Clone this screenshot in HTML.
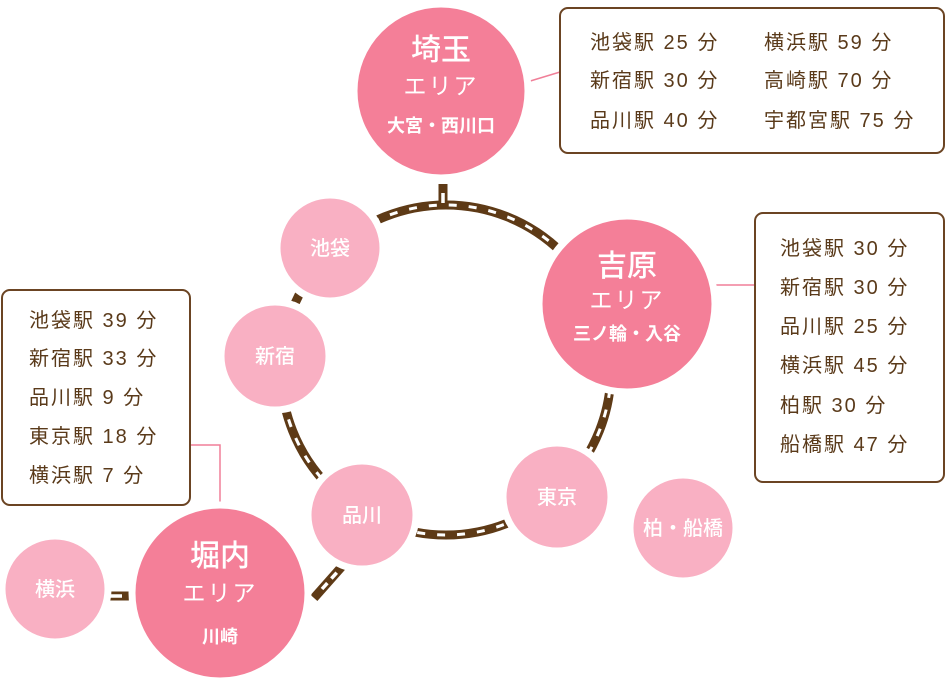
<!DOCTYPE html>
<html><head><meta charset="utf-8"><style>
body{margin:0;width:945px;height:690px;background:#fff;overflow:hidden;position:relative;font-family:"Liberation Sans","Noto Sans CJK JP",sans-serif}
.box{position:absolute;border:2px solid #6b4423;border-radius:9px;box-sizing:border-box;background:#fff}
.t{position:absolute;color:#5a3a1a;font-size:20px;letter-spacing:2px;white-space:nowrap;line-height:1}
</style></head><body>
<svg width="945" height="690" style="position:absolute;left:0;top:0">
<g fill="none">
<circle cx="446" cy="370" r="165" stroke="#5e3a16" stroke-width="9"/>
<circle cx="446" cy="370" r="165" stroke="#fff" stroke-width="3" stroke-dasharray="8 12"/>
<line x1="443" y1="184" x2="443" y2="207" stroke="#5e3a16" stroke-width="9"/>
<line x1="443" y1="193" x2="443" y2="203" stroke="#fff" stroke-width="3.5"/>
<line x1="314" y1="598" x2="345" y2="563" stroke="#5e3a16" stroke-width="9"/>
<line x1="322" y1="589" x2="340" y2="569" stroke="#fff" stroke-width="3.5" stroke-dasharray="8 6"/>
<line x1="106" y1="596" x2="132" y2="596" stroke="#5e3a16" stroke-width="9"/>
<line x1="110" y1="596" x2="122" y2="596" stroke="#fff" stroke-width="3.5"/>
<polyline points="560,72 527,82" stroke="#f07f98" stroke-width="1.5"/>
<polyline points="755,285 712,285" stroke="#f07f98" stroke-width="1.5"/>
<polyline points="190,445 220,445 220,508" stroke="#f07f98" stroke-width="1.5"/>
</g>
<g stroke="#fff" stroke-width="7">
<circle cx="441" cy="91" r="87" fill="#f47f98"/>
<circle cx="627" cy="304" r="88" fill="#f47f98"/>
<circle cx="220" cy="593" r="88" fill="#f47f98"/>
<circle cx="330" cy="248" r="53" fill="#f9b0c3"/>
<circle cx="275" cy="356" r="54" fill="#f9b0c3"/>
<circle cx="362" cy="515" r="54" fill="#f9b0c3"/>
<circle cx="557" cy="497" r="54" fill="#f9b0c3"/>
<circle cx="683" cy="528" r="53" fill="#f9b0c3"/>
<circle cx="55" cy="589" r="53" fill="#f9b0c3"/>
</g>
<g fill="#fff" text-anchor="middle" font-family="Liberation Sans,Noto Sans CJK JP,sans-serif">
<text x="441" y="60" font-size="30" font-weight="500">埼玉</text>
<text x="441" y="94" font-size="23" letter-spacing="2">エリア</text>
<text x="441" y="132" font-size="18" font-weight="bold">大宮・西川口</text>
<text x="627" y="276" font-size="30" font-weight="500">吉原</text>
<text x="627" y="308" font-size="23" letter-spacing="2">エリア</text>
<text x="627" y="340" font-size="18" font-weight="bold">三ノ輪・入谷</text>
<text x="220" y="566" font-size="30" font-weight="500">堀内</text>
<text x="220" y="601" font-size="23" letter-spacing="2">エリア</text>
<text x="220" y="643" font-size="18" font-weight="bold">川崎</text>
<g font-size="20" font-weight="500"><text x="330" y="255">池袋</text><text x="275" y="363">新宿</text><text x="362" y="522">品川</text><text x="557" y="504">東京</text><text x="683" y="535">柏・船橋</text><text x="55" y="596">横浜</text></g>
</g>
</svg>
<div class="box" style="left:559px;top:7px;width:386px;height:147px"></div>
<div class="box" style="left:754px;top:212px;width:191px;height:271px"></div>
<div class="box" style="left:1px;top:289px;width:190px;height:217px"></div>
<div class="t" style="left:590px;top:33px">池袋駅 25 分</div>
<div class="t" style="left:590px;top:71px">新宿駅 30 分</div>
<div class="t" style="left:590px;top:111px">品川駅 40 分</div>
<div class="t" style="left:764px;top:33px">横浜駅 59 分</div>
<div class="t" style="left:764px;top:71px">高崎駅 70 分</div>
<div class="t" style="left:764px;top:111px">宇都宮駅 75 分</div>
<div class="t" style="left:780px;top:239px">池袋駅 30 分</div>
<div class="t" style="left:780px;top:278px">新宿駅 30 分</div>
<div class="t" style="left:780px;top:317px">品川駅 25 分</div>
<div class="t" style="left:780px;top:356px">横浜駅 45 分</div>
<div class="t" style="left:780px;top:396px">柏駅 30 分</div>
<div class="t" style="left:780px;top:435px">船橋駅 47 分</div>
<div class="t" style="left:29px;top:311px">池袋駅 39 分</div>
<div class="t" style="left:29px;top:349px">新宿駅 33 分</div>
<div class="t" style="left:29px;top:388px">品川駅 9 分</div>
<div class="t" style="left:29px;top:427px">東京駅 18 分</div>
<div class="t" style="left:29px;top:466px">横浜駅 7 分</div>
</body></html>
